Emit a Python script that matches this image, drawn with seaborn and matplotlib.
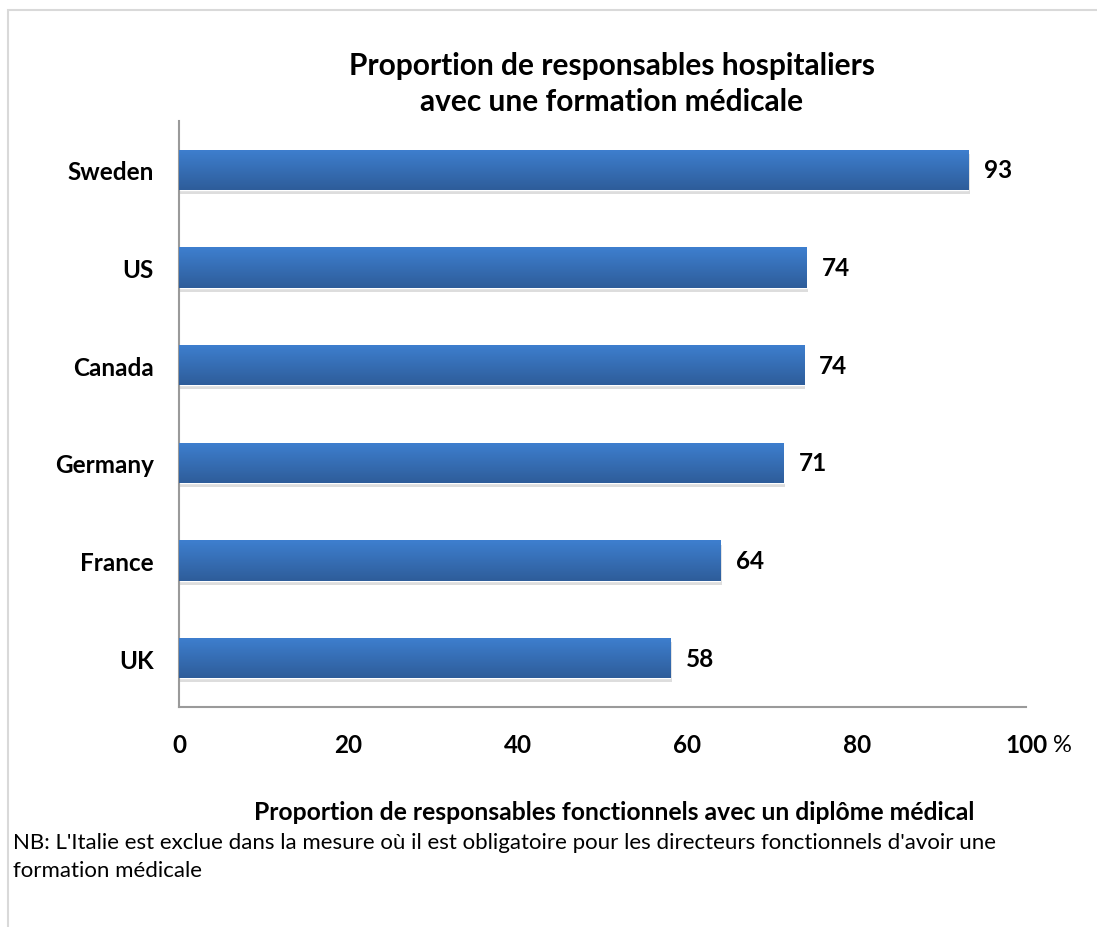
import matplotlib
matplotlib.use("Agg")
import matplotlib.pyplot as plt
import matplotlib.patheffects as pe
from matplotlib.patches import Rectangle
import numpy as np
import pandas as pd
import seaborn as sns

countries = ["Sweden", "US", "Canada", "Germany", "France", "UK"]
values = [93.2, 74.1, 73.8, 71.4, 63.9, 58.0]
xticks = [0, 20, 40, 60, 80, 100]
title = "Proportion de responsables hospitaliers\navec une formation médicale"
xlabel = "Proportion de responsables fonctionnels avec un diplôme médical"
note = ("NB: L'Italie est exclue dans la mesure où il est obligatoire pour les directeurs fonctionnels d'avoir une\n"
        "formation médicale")

sns.set_theme(style="white")
plt.rcParams['font.family'] = ['Lato', 'DejaVu Sans']
plt.rcParams['text.color'] = 'black'
plt.rcParams['xtick.color'] = 'black'
plt.rcParams['ytick.color'] = 'black'

W, H = 1097, 928
fig = plt.figure(figsize=(W / 100, H / 100), dpi=100)
ax = fig.add_axes([179 / W, 1 - 708 / H, (1026 - 179) / W, (708 - 122) / H])

df = pd.DataFrame({"country": countries, "value": values})
sns.barplot(data=df, x="value", y="country", orient="h", color="#3a75c0",
            width=0.41, ax=ax, saturation=1)

grad = np.linspace(0, 1, 64).reshape(-1, 1)
cmap = matplotlib.colors.LinearSegmentedColormap.from_list("g", ["#3e7fcf", "#2e5d9a"])
for p in ax.patches:
    p.set_path_effects([pe.SimplePatchShadow(offset=(1, -3), shadow_rgbFace="#909090", alpha=0.3),
                        pe.Normal()])
    x0, y0 = p.get_x(), p.get_y()
    w, h = p.get_width(), p.get_height()
    im = ax.imshow(grad, extent=[x0, x0 + w, y0 + h, y0], aspect="auto", cmap=cmap,
                   zorder=3, interpolation="bilinear")
    im.set_clip_path(p)

ax.bar_label(ax.containers[0], labels=[f"{v:.0f}" for v in values], padding=11,
             fontsize=17.5, fontweight="bold", color="black")

ax.set_xlim(0, 100)
ax.set_ylim(5.5, -0.5)
ax.set_xticks(xticks)
ax.set_xticklabels([str(t) for t in xticks], fontsize=17.5, fontweight="bold")
ax.tick_params(axis="x", length=0, pad=19)
ax.tick_params(axis="y", length=0, pad=18)
for lab in ax.get_yticklabels():
    lab.set_fontsize(17.5)
    lab.set_fontweight("bold")
ax.set_xlabel("")
ax.set_ylabel("")
for s in ["top", "right"]:
    ax.spines[s].set_visible(False)
for s in ["left", "bottom"]:
    ax.spines[s].set_color("#9a9a9a")
    ax.spines[s].set_linewidth(1.5)

fig.text(1053 / W, 1 - 746 / H, "%", fontsize=17, ha="left", va="center")
fig.text(612 / W, 1 - 84 / H, title, fontsize=21.5, fontweight="bold", ha="center",
         va="center", linespacing=1.35)
fig.text(614 / W, 1 - 813 / H, xlabel, fontsize=17.8, fontweight="bold", ha="center", va="center")
fig.text(13 / W, 1 - 857 / H, note, fontsize=16, ha="left", va="center", linespacing=1.5)

fig.patches.append(Rectangle((8 / W, -0.05), 1.2, 1 - 11 / H + 0.05, transform=fig.transFigure,
                             fill=False, edgecolor="#d9d9d9", linewidth=1.5))

fig.savefig("out.png", dpi=100)
